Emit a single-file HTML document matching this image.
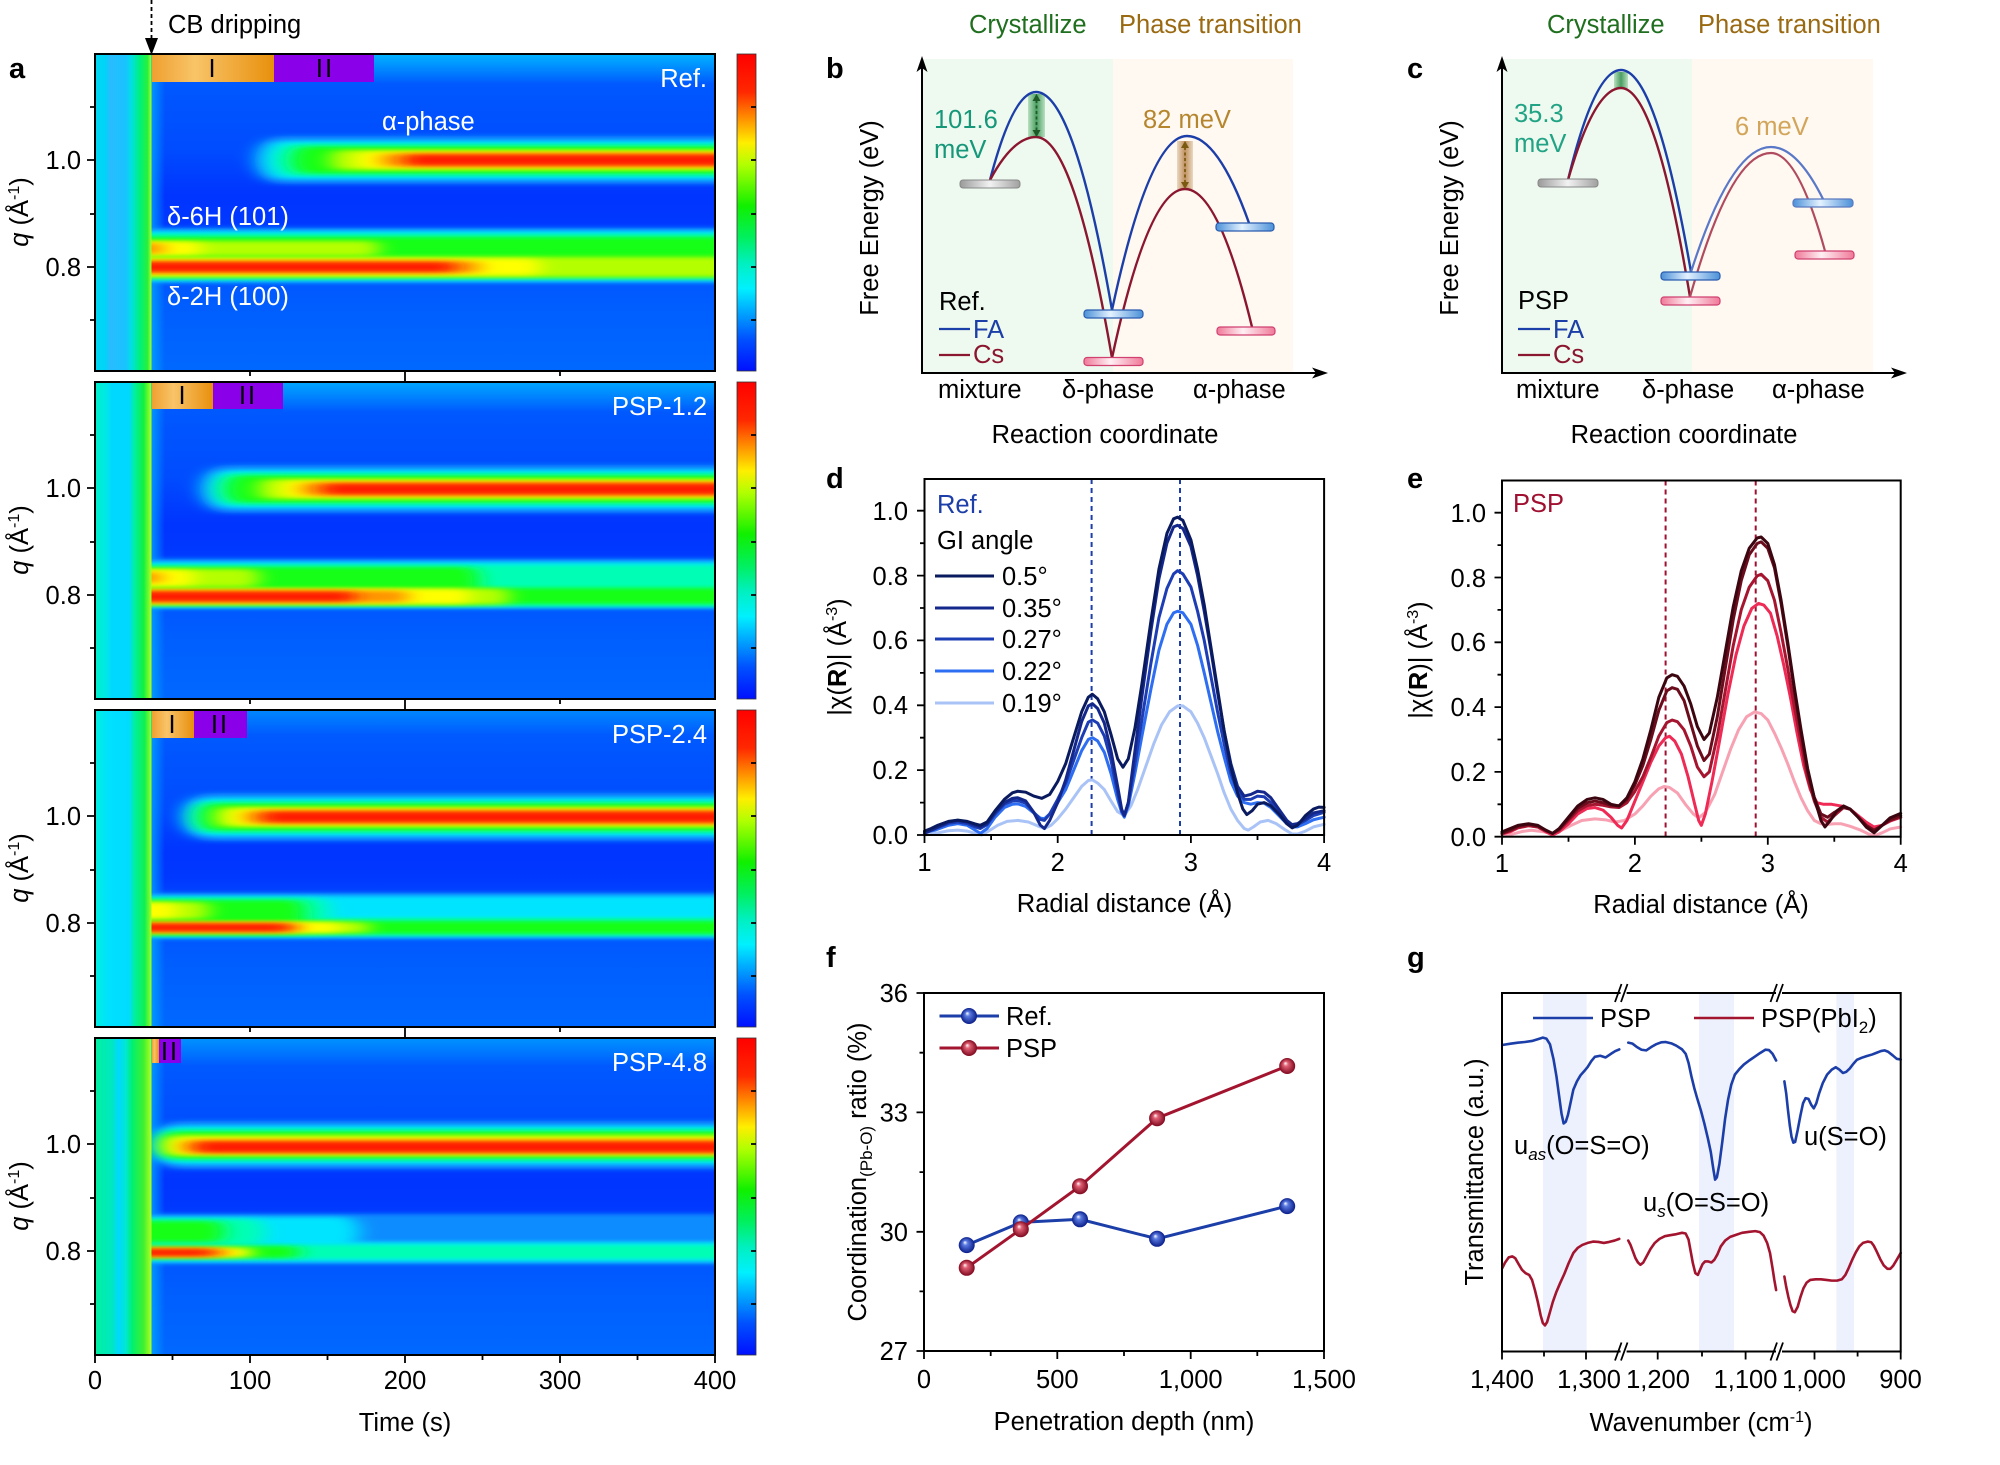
<!DOCTYPE html>
<html><head><meta charset="utf-8">
<style>
html,body{margin:0;padding:0;background:#fff;}
svg{display:block;}
text{font-family:"Liberation Sans",Arial,sans-serif;font-size:25.5px;fill:#000;}
.w{fill:#fff;}
.lb{font-weight:bold;font-size:29px;}
.h{fill:#0a8cff}.c{fill:#00e4ff}.a{fill:#00ffb4}.g{fill:#14ff14}.yg{fill:#b4ff00}.y{fill:#ffff00}.o{fill:#ff9600}.r{fill:#ff1e00}
.bands rect{filter:url(#bl);}
.ax{fill:none;stroke:#000;stroke-width:2}
.tk{stroke:#000;stroke-width:1.8;fill:none}
</style></head><body>
<svg width="2000" height="1465" viewBox="0 0 2000 1465" xmlns="http://www.w3.org/2000/svg">
<defs>
 <filter id="bl" filterUnits="userSpaceOnUse" x="60" y="0" width="760" height="1465"><feGaussianBlur stdDeviation="10 2"/></filter>
 <linearGradient id="bgv" x1="0" y1="0" x2="0" y2="1">
  <stop offset="0" stop-color="#0062ff"/><stop offset="0.12" stop-color="#0056ff"/>
  <stop offset="0.3" stop-color="#004cff"/><stop offset="0.45" stop-color="#0034ff"/>
  <stop offset="0.53" stop-color="#0038ff"/><stop offset="0.64" stop-color="#0050ff"/>
  <stop offset="0.8" stop-color="#005eff"/><stop offset="1" stop-color="#0068ff"/>
 </linearGradient>
 <linearGradient id="tf" x1="0" y1="0" x2="0" y2="1">
  <stop offset="0" stop-color="#00c8ff" stop-opacity="0.8"/><stop offset="1" stop-color="#00c8ff" stop-opacity="0"/>
 </linearGradient>
 <linearGradient id="df" x1="0" y1="0" x2="1" y2="0">
  <stop offset="0" stop-color="#00a8ff" stop-opacity="0.8"/><stop offset="1" stop-color="#00a8ff" stop-opacity="0"/>
 </linearGradient>
 <linearGradient id="ls1" x1="0" y1="0" x2="1" y2="0">
  <stop offset="0" stop-color="#00d8f0"/><stop offset="0.18" stop-color="#00d4fa"/><stop offset="0.27" stop-color="#28bcff"/>
  <stop offset="0.55" stop-color="#18c4ff"/><stop offset="0.64" stop-color="#00e0e4"/><stop offset="0.8" stop-color="#00f07a"/>
  <stop offset="0.93" stop-color="#28f03c"/><stop offset="1" stop-color="#a8ff28"/>
 </linearGradient>
 <linearGradient id="ls2" x1="0" y1="0" x2="1" y2="0">
  <stop offset="0" stop-color="#00f0c8"/><stop offset="0.2" stop-color="#00e8e8"/><stop offset="0.3" stop-color="#00d8ff"/>
  <stop offset="0.6" stop-color="#00d8ff"/><stop offset="0.7" stop-color="#00f0a0"/><stop offset="0.86" stop-color="#10f040"/>
  <stop offset="1" stop-color="#b0ff20"/>
 </linearGradient>
 <linearGradient id="ls3" x1="0" y1="0" x2="1" y2="0">
  <stop offset="0" stop-color="#00f0e0"/><stop offset="0.25" stop-color="#00e0ff"/><stop offset="0.6" stop-color="#00dcff"/>
  <stop offset="0.7" stop-color="#00f0a0"/><stop offset="0.88" stop-color="#10f050"/><stop offset="1" stop-color="#a0ff20"/>
 </linearGradient>
 <linearGradient id="ls4" x1="0" y1="0" x2="1" y2="0">
  <stop offset="0" stop-color="#00f0a0"/><stop offset="0.3" stop-color="#00e8c0"/><stop offset="0.42" stop-color="#00d8ff"/>
  <stop offset="0.55" stop-color="#00e8d0"/><stop offset="0.66" stop-color="#00f070"/><stop offset="0.86" stop-color="#40f030"/>
  <stop offset="1" stop-color="#b0ff20"/>
 </linearGradient>
 <linearGradient id="cb" x1="0" y1="0" x2="0" y2="1">
  <stop offset="0" stop-color="#ff0000"/><stop offset="0.12" stop-color="#ff2800"/><stop offset="0.2" stop-color="#ff8c00"/>
  <stop offset="0.28" stop-color="#ffee00"/><stop offset="0.35" stop-color="#b0ff00"/><stop offset="0.48" stop-color="#10f000"/>
  <stop offset="0.58" stop-color="#00f060"/><stop offset="0.66" stop-color="#00f0c0"/><stop offset="0.74" stop-color="#00f0ff"/>
  <stop offset="0.82" stop-color="#00a0ff"/><stop offset="0.9" stop-color="#0050ff"/><stop offset="1" stop-color="#0010ff"/>
 </linearGradient>
 <linearGradient id="org" x1="0" y1="0" x2="1" y2="0">
  <stop offset="0" stop-color="#f0a030"/><stop offset="0.35" stop-color="#f8c468"/><stop offset="0.7" stop-color="#f0a838"/><stop offset="1" stop-color="#e8900c"/>
 </linearGradient>
 <linearGradient id="pg" x1="0" y1="0" x2="1" y2="0">
  <stop offset="0" stop-color="#9a9a9a"/><stop offset="0.5" stop-color="#f2f2f2"/><stop offset="1" stop-color="#a0a0a0"/>
 </linearGradient>
 <linearGradient id="pb" x1="0" y1="0" x2="1" y2="0">
  <stop offset="0" stop-color="#4a90d8"/><stop offset="0.45" stop-color="#e4f2ff"/><stop offset="1" stop-color="#4a90d8"/>
 </linearGradient>
 <linearGradient id="pp" x1="0" y1="0" x2="1" y2="0">
  <stop offset="0" stop-color="#f07898"/><stop offset="0.45" stop-color="#fff0f4"/><stop offset="1" stop-color="#f07898"/>
 </linearGradient>
 <linearGradient id="garr" x1="0" y1="0" x2="1" y2="0">
  <stop offset="0" stop-color="#b8e0c0"/><stop offset="0.5" stop-color="#4a9e62"/><stop offset="1" stop-color="#b8e0c0"/>
 </linearGradient>
 <linearGradient id="barr" x1="0" y1="0" x2="1" y2="0">
  <stop offset="0" stop-color="#ead8c0"/><stop offset="0.5" stop-color="#c09060"/><stop offset="1" stop-color="#ead8c0"/>
 </linearGradient>
 <radialGradient id="sb" cx="0.5" cy="0.5" r="0.5" fx="0.38" fy="0.32">
  <stop offset="0" stop-color="#ffffff"/><stop offset="0.3" stop-color="#5a7ae0"/><stop offset="1" stop-color="#0a1e8a"/>
 </radialGradient>
 <radialGradient id="sr" cx="0.5" cy="0.5" r="0.5" fx="0.38" fy="0.32">
  <stop offset="0" stop-color="#ffffff"/><stop offset="0.3" stop-color="#e06074"/><stop offset="1" stop-color="#80081e"/>
 </radialGradient>
 <clipPath id="h1"><rect x="95" y="54" width="620" height="317"/></clipPath>
 <clipPath id="h2"><rect x="95" y="382" width="620" height="317"/></clipPath>
 <clipPath id="h3"><rect x="95" y="710" width="620" height="317"/></clipPath>
 <clipPath id="h4"><rect x="95" y="1038" width="620" height="317"/></clipPath>
</defs>

<!-- ================= PANEL A ================= -->
<text class="lb" x="9" y="78">a</text>
<line x1="151.5" y1="0" x2="151.5" y2="40" stroke="#000" stroke-width="1.8" stroke-dasharray="4,3"/>
<polygon points="145,38 158,38 151.5,55" fill="#000"/>
<text x="168" y="33">CB dripping</text>

<!-- Heatmap 1 (Ref) -->
<g clip-path="url(#h1)">
 <rect x="95" y="54" width="620" height="317" fill="url(#bgv)"/>
 <rect x="374" y="54" width="341" height="30" fill="url(#tf)"/>
 <rect x="151" y="54" width="14" height="317" fill="url(#df)"/>
 <g class="bands">
  <rect class="h" x="255" y="136" width="500" height="48" rx="24"/>
  <rect class="c" x="262" y="141" width="500" height="38" rx="19"/>
  <rect class="a" x="275" y="144" width="500" height="32" rx="16"/>
  <rect class="g" x="292" y="146.5" width="500" height="27" rx="13.5"/>
  <rect class="yg" x="330" y="150" width="500" height="20" rx="10"/>
  <rect class="y" x="355" y="152" width="500" height="16" rx="8"/>
  <rect class="o" x="380" y="153.5" width="500" height="13" rx="6.5"/>
  <rect class="r" x="405" y="154.5" width="500" height="11" rx="5.5"/>
  <rect class="h" x="120" y="228" width="630" height="55"/>
  <rect class="c" x="120" y="231" width="630" height="50"/>
  <rect class="a" x="120" y="234" width="630" height="45"/>
  <rect class="g" x="120" y="237" width="630" height="40"/>
  <rect class="yg" x="120" y="241" width="259" height="15" rx="7.5"/>
  <rect class="y" x="120" y="242" width="81" height="13" rx="6.5"/>
  <rect class="o" x="120" y="243" width="43" height="11" rx="5"/>
  <rect class="yg" x="120" y="257" width="630" height="20"/>
  <rect class="y" x="120" y="259" width="420" height="16" rx="8"/>
  <rect class="o" x="120" y="261" width="360" height="12" rx="6"/>
  <rect class="r" x="120" y="262" width="335" height="10" rx="5"/>
 </g>
 <rect x="95" y="54" width="56.5" height="317" fill="url(#ls1)"/>
 <rect x="152" y="54" width="122" height="28" fill="url(#org)"/>
 <rect x="274" y="54" width="100" height="28" fill="#8a00e8"/>
 <text x="212" y="77" font-size="22" text-anchor="middle">I</text>
 <text x="325" y="77" font-size="22" text-anchor="middle" letter-spacing="2">II</text>
 <text class="w" x="707" y="87" text-anchor="end">Ref.</text>
 <text class="w" x="382" y="130">α-phase</text>
 <text class="w" x="167" y="225">δ-6H (101)</text>
 <text class="w" x="167" y="305">δ-2H (100)</text>
</g>
<rect class="ax" x="95" y="54" width="620" height="317"/>

<!-- Heatmap 2 (PSP-1.2) -->
<g clip-path="url(#h2)">
 <rect x="95" y="382" width="620" height="317" fill="url(#bgv)"/>
 <rect x="283" y="382" width="432" height="30" fill="url(#tf)" opacity="0.85"/>
 <rect x="151" y="382" width="14" height="317" fill="url(#df)"/>
 <g class="bands">
  <rect class="h" x="200" y="465" width="560" height="48" rx="24"/>
  <rect class="c" x="208" y="470" width="560" height="38" rx="19"/>
  <rect class="a" x="216" y="473" width="560" height="32" rx="16"/>
  <rect class="g" x="226" y="475.5" width="560" height="27" rx="13.5"/>
  <rect class="yg" x="258" y="479" width="560" height="20" rx="10"/>
  <rect class="y" x="280" y="481" width="560" height="16" rx="8"/>
  <rect class="o" x="300" y="482.5" width="560" height="13" rx="6.5"/>
  <rect class="r" x="322" y="483.5" width="560" height="11" rx="5.5"/>
  <rect class="h" x="120" y="559" width="630" height="50"/>
  <rect class="c" x="120" y="562" width="630" height="45"/>
  <rect class="a" x="120" y="565" width="630" height="41"/>
  <rect class="g" x="120" y="567" width="359" height="37" rx="12"/>
  <rect class="g" x="120" y="588" width="630" height="16"/>
  <rect class="yg" x="120" y="569" width="139" height="18" rx="9"/>
  <rect class="y" x="120" y="570" width="74" height="16" rx="8"/>
  <rect class="o" x="120" y="572" width="41" height="11" rx="5"/>
  <rect class="yg" x="120" y="588.5" width="389" height="16" rx="8"/>
  <rect class="y" x="120" y="589.5" width="350" height="14" rx="7"/>
  <rect class="o" x="120" y="590.5" width="288" height="12" rx="6"/>
  <rect class="r" x="120" y="591.5" width="235" height="10" rx="5"/>
 </g>
 <rect x="95" y="382" width="56.5" height="317" fill="url(#ls2)"/>
 <rect x="152" y="382" width="61" height="27" fill="url(#org)"/>
 <rect x="213" y="382" width="70" height="27" fill="#8a00e8"/>
 <text x="182" y="404" font-size="22" text-anchor="middle">I</text>
 <text x="248" y="404" font-size="22" text-anchor="middle" letter-spacing="2">II</text>
 <text class="w" x="707" y="415" text-anchor="end">PSP-1.2</text>
</g>
<rect class="ax" x="95" y="382" width="620" height="317"/>

<!-- Heatmap 3 (PSP-2.4) -->
<g clip-path="url(#h3)">
 <rect x="95" y="710" width="620" height="317" fill="url(#bgv)"/>
 <rect x="247" y="710" width="468" height="25" fill="url(#tf)" opacity="0.45"/>
 <rect x="151" y="710" width="14" height="317" fill="url(#df)"/>
 <g class="bands">
  <rect class="h" x="183" y="793" width="580" height="48" rx="24"/>
  <rect class="c" x="188" y="798" width="580" height="38" rx="19"/>
  <rect class="a" x="193" y="801" width="580" height="32" rx="16"/>
  <rect class="g" x="199" y="803.5" width="580" height="27" rx="13.5"/>
  <rect class="yg" x="215" y="807" width="580" height="20" rx="10"/>
  <rect class="y" x="228" y="809" width="580" height="16" rx="8"/>
  <rect class="o" x="245" y="810.5" width="580" height="13" rx="6.5"/>
  <rect class="r" x="262" y="811.5" width="580" height="11" rx="5.5"/>
  <rect class="h" x="120" y="893" width="630" height="46"/>
  <rect class="c" x="120" y="896" width="630" height="41"/>
  <rect class="a" x="120" y="898" width="209" height="37" rx="12"/>
  <rect class="a" x="120" y="918" width="630" height="17"/>
  <rect class="g" x="120" y="900" width="185" height="34" rx="11"/>
  <rect class="g" x="120" y="921" width="630" height="13"/>
  <rect class="yg" x="120" y="902" width="89" height="17" rx="8"/>
  <rect class="y" x="120" y="903" width="57" height="15" rx="7"/>
  <rect class="yg" x="120" y="922" width="249" height="11" rx="5.5"/>
  <rect class="y" x="120" y="922.5" width="220" height="10" rx="5"/>
  <rect class="o" x="120" y="923" width="180" height="9" rx="4.5"/>
  <rect class="r" x="120" y="923.5" width="170" height="8" rx="4"/>
 </g>
 <rect x="95" y="710" width="56.5" height="317" fill="url(#ls3)"/>
 <rect x="152" y="710" width="42" height="28" fill="url(#org)"/>
 <rect x="194" y="710" width="53" height="28" fill="#8a00e8"/>
 <text x="172" y="733" font-size="22" text-anchor="middle">I</text>
 <text x="220" y="733" font-size="22" text-anchor="middle" letter-spacing="2">II</text>
 <text class="w" x="707" y="743" text-anchor="end">PSP-2.4</text>
</g>
<rect class="ax" x="95" y="710" width="620" height="317"/>

<!-- Heatmap 4 (PSP-4.8) -->
<g clip-path="url(#h4)">
 <rect x="95" y="1038" width="620" height="317" fill="url(#bgv)"/>
 <rect x="181" y="1038" width="534" height="28" fill="url(#tf)" opacity="0.6"/>
 <rect x="151" y="1038" width="14" height="317" fill="url(#df)"/>
 <g class="bands">
  <rect class="h" x="153" y="1121" width="600" height="48" rx="24"/>
  <rect class="c" x="156" y="1126" width="600" height="38" rx="19"/>
  <rect class="a" x="158" y="1129" width="600" height="32" rx="16"/>
  <rect class="g" x="160" y="1131.5" width="600" height="27" rx="13.5"/>
  <rect class="yg" x="164" y="1135" width="600" height="21" rx="10.5"/>
  <rect class="y" x="170" y="1138" width="600" height="16" rx="8"/>
  <rect class="o" x="182" y="1140" width="600" height="13" rx="6.5"/>
  <rect class="r" x="195" y="1141.5" width="600" height="11" rx="5.5"/>
  <rect class="h" x="120" y="1214" width="630" height="50"/>
  <rect class="c" x="120" y="1217" width="239" height="30" rx="15"/>
  <rect class="c" x="120" y="1242" width="630" height="20"/>
  <rect class="a" x="120" y="1219" width="144" height="26" rx="13"/>
  <rect class="a" x="120" y="1245" width="630" height="14"/>
  <rect class="g" x="120" y="1221" width="104" height="21" rx="10"/>
  <rect class="g" x="120" y="1246" width="179" height="12" rx="6"/>
  <rect class="y" x="120" y="1247.5" width="131" height="10" rx="5"/>
  <rect class="o" x="120" y="1248.5" width="107" height="8" rx="4"/>
  <rect class="r" x="120" y="1249" width="93" height="7" rx="3.5"/>
 </g>
 <rect x="95" y="1038" width="56.5" height="317" fill="url(#ls4)"/>
 <rect x="152" y="1038" width="7" height="25" fill="url(#org)"/>
 <rect x="159" y="1038" width="22" height="25" fill="#8a00e8"/>
 <text x="170" y="1060" font-size="22" text-anchor="middle" letter-spacing="2">II</text>
 <text class="w" x="707" y="1071" text-anchor="end">PSP-4.8</text>
</g>
<rect class="ax" x="95" y="1038" width="620" height="317"/>

<!-- colorbars -->
<g stroke="#333" stroke-width="0.8">
 <rect x="737" y="54" width="19" height="317" fill="url(#cb)"/>
 <rect x="737" y="382" width="19" height="317" fill="url(#cb)"/>
 <rect x="737" y="710" width="19" height="317" fill="url(#cb)"/>
 <rect x="737" y="1038" width="19" height="317" fill="url(#cb)"/>
</g>
<path class="tk" stroke-width="1.2" d="M751,107h5M751,160h5M751,214h5M751,267h5M751,320h5
M751,435h5M751,488h5M751,542h5M751,595h5M751,648h5
M751,763h5M751,816h5M751,870h5M751,923h5M751,976h5
M751,1091h5M751,1144h5M751,1198h5M751,1251h5M751,1304h5"/>

<!-- panel a ticks -->
<path class="tk" d="M87,160h8M87,267h8M90,107h5M90,214h5M90,320h5
M87,488h8M87,595h8M90,435h5M90,542h5M90,648h5
M87,816h8M87,923h8M90,763h5M90,870h5M90,976h5
M87,1144h8M87,1251h8M90,1091h5M90,1198h5M90,1304h5
M250,371v5M405,371v11M560,371v5
M250,699v5M405,699v11M560,699v5
M250,1027v5M405,1027v11M560,1027v5
M95,1355v8M250,1355v8M405,1355v8M560,1355v8M715,1355v8
M172.5,1355v5M327.5,1355v5M482.5,1355v5M637.5,1355v5"/>
<g text-anchor="end">
 <text x="81" y="169">1.0</text><text x="81" y="276">0.8</text>
 <text x="81" y="497">1.0</text><text x="81" y="604">0.8</text>
 <text x="81" y="825">1.0</text><text x="81" y="932">0.8</text>
 <text x="81" y="1153">1.0</text><text x="81" y="1260">0.8</text>
</g>
<g text-anchor="middle">
 <text transform="translate(28,212) rotate(-90)"><tspan font-style="italic">q</tspan>  (Å<tspan font-size="16" dy="-9">-1</tspan><tspan dy="9">)</tspan></text>
 <text transform="translate(28,540) rotate(-90)"><tspan font-style="italic">q</tspan>  (Å<tspan font-size="16" dy="-9">-1</tspan><tspan dy="9">)</tspan></text>
 <text transform="translate(28,868) rotate(-90)"><tspan font-style="italic">q</tspan>  (Å<tspan font-size="16" dy="-9">-1</tspan><tspan dy="9">)</tspan></text>
 <text transform="translate(28,1196) rotate(-90)"><tspan font-style="italic">q</tspan>  (Å<tspan font-size="16" dy="-9">-1</tspan><tspan dy="9">)</tspan></text>
 <text x="95" y="1389">0</text><text x="250" y="1389">100</text><text x="405" y="1389">200</text>
 <text x="560" y="1389">300</text><text x="715" y="1389">400</text>
 <text x="405" y="1431">Time (s)</text>
</g>

<!-- ================= PANEL B ================= -->
<text class="lb" x="826" y="78">b</text>
<text x="969" y="33" style="fill:#1f6f1f">Crystallize</text>
<text x="1119" y="33" style="fill:#9a6a12">Phase transition</text>
<rect x="922" y="59" width="191" height="314" fill="#eefaef"/>
<rect x="1113" y="59" width="180" height="314" fill="#fff9f1"/>
<line x1="922" y1="374" x2="922" y2="66" stroke="#000" stroke-width="2"/>
<polygon points="922,56 916.5,72 922,68 927.5,72" fill="#000"/>
<line x1="921" y1="373" x2="1318" y2="373" stroke="#000" stroke-width="2"/>
<polygon points="1328,373 1312,367.5 1316,373 1312,378.5" fill="#000"/>
<rect x="1028" y="94" width="17" height="43" fill="url(#garr)"/>
<rect x="1177" y="141" width="16" height="48" fill="url(#barr)"/>
<path d="M990,180 Q1013,92 1036,92 Q1074,92 1112,310 Q1149.5,136 1187,136 Q1218,136 1249,223" fill="none" stroke="#1c3ea8" stroke-width="2.4"/>
<path d="M990,180 Q1013,137 1036,137 Q1074,137 1112,358 Q1148.5,189 1185,189 Q1218.5,189 1252,327" fill="none" stroke="#8b1630" stroke-width="2.4"/>
<line x1="1036.5" y1="100" x2="1036.5" y2="131" stroke="#1e5a28" stroke-width="1.8" stroke-dasharray="3,2.5"/>
<polygon points="1036.5,94 1032.5,101 1040.5,101" fill="#1e5a28"/>
<polygon points="1036.5,137 1032.5,130 1040.5,130" fill="#1e5a28"/>
<line x1="1185" y1="147" x2="1185" y2="183" stroke="#7a5a10" stroke-width="1.8" stroke-dasharray="3,2.5"/>
<polygon points="1185,141 1181,148 1189,148" fill="#7a5a10"/>
<polygon points="1185,189 1181,182 1189,182" fill="#7a5a10"/>
<rect x="960" y="180" width="60" height="8" rx="3" fill="url(#pg)" stroke="#888" stroke-width="1"/>
<rect x="1084" y="310" width="59" height="8" rx="3" fill="url(#pb)" stroke="#2a5cb0" stroke-width="1.2"/>
<rect x="1084" y="357.5" width="59" height="8" rx="3" fill="url(#pp)" stroke="#d04070" stroke-width="1.2"/>
<rect x="1216" y="223" width="58" height="8" rx="3" fill="url(#pb)" stroke="#2a5cb0" stroke-width="1.2"/>
<rect x="1217" y="327" width="58" height="8" rx="3" fill="url(#pp)" stroke="#d04070" stroke-width="1.2"/>
<text x="934" y="128" style="fill:#16977a">101.6</text>
<text x="934" y="158" style="fill:#16977a">meV</text>
<text x="1143" y="128" style="fill:#b5862e">82 meV</text>
<text x="939" y="310">Ref.</text>
<line x1="939" y1="329" x2="970" y2="329" stroke="#1c3ea8" stroke-width="2.2"/>
<text x="973" y="338" style="fill:#1c3ea8">FA</text>
<line x1="939" y1="355" x2="970" y2="355" stroke="#8b1630" stroke-width="2.2"/>
<text x="973" y="363" style="fill:#8b1630">Cs</text>
<text x="938" y="398">mixture</text>
<text x="1062" y="398">δ-phase</text>
<text x="1193" y="398">α-phase</text>
<text x="1105" y="443" text-anchor="middle">Reaction coordinate</text>
<text transform="translate(878,218) rotate(-90)" text-anchor="middle">Free Energy (eV)</text>

<!-- ================= PANEL C ================= -->
<text class="lb" x="1407" y="78">c</text>
<text x="1547" y="33" style="fill:#1f6f1f">Crystallize</text>
<text x="1698" y="33" style="fill:#9a6a12">Phase transition</text>
<rect x="1502" y="59" width="190" height="314" fill="#eefaef"/>
<rect x="1692" y="59" width="181" height="314" fill="#fff9f1"/>
<line x1="1502" y1="374" x2="1502" y2="66" stroke="#000" stroke-width="2"/>
<polygon points="1502,56 1496.5,72 1502,68 1507.5,72" fill="#000"/>
<line x1="1501" y1="373" x2="1897" y2="373" stroke="#000" stroke-width="2"/>
<polygon points="1907,373 1891,367.5 1895,373 1891,378.5" fill="#000"/>
<rect x="1614" y="72" width="14" height="16" fill="url(#garr)"/>
<path d="M1568,180 Q1594.5,70 1621,70 Q1656,70 1691,272" fill="none" stroke="#1c3ea8" stroke-width="2.4"/>
<path d="M1691,272 Q1731,147 1771,147 Q1797,147 1823,199" fill="none" stroke="#5a78c8" stroke-width="2.2"/>
<path d="M1568,180 Q1594.5,88 1621,88 Q1655.5,88 1690,297" fill="none" stroke="#8b1630" stroke-width="2.4"/>
<path d="M1690,297 Q1730.5,153 1771,153 Q1798,153 1825,251" fill="none" stroke="#b04a5e" stroke-width="2.2"/>
<rect x="1538" y="179" width="60" height="8" rx="3" fill="url(#pg)" stroke="#888" stroke-width="1"/>
<rect x="1661" y="272" width="59" height="8" rx="3" fill="url(#pb)" stroke="#2a5cb0" stroke-width="1.2"/>
<rect x="1661" y="297" width="59" height="8" rx="3" fill="url(#pp)" stroke="#d04070" stroke-width="1.2"/>
<rect x="1793" y="199" width="60" height="8" rx="3" fill="url(#pb)" stroke="#5a7ac0" stroke-width="1.2"/>
<rect x="1795" y="251" width="59" height="8" rx="3" fill="url(#pp)" stroke="#d04070" stroke-width="1.2"/>
<text x="1514" y="122" style="fill:#22a385">35.3</text>
<text x="1514" y="152" style="fill:#22a385">meV</text>
<text x="1735" y="135" style="fill:#d2a55a">6 meV</text>
<text x="1518" y="309">PSP</text>
<line x1="1518" y1="329" x2="1550" y2="329" stroke="#1c3ea8" stroke-width="2.2"/>
<text x="1553" y="338" style="fill:#1c3ea8">FA</text>
<line x1="1518" y1="355" x2="1550" y2="355" stroke="#8b1630" stroke-width="2.2"/>
<text x="1553" y="363" style="fill:#8b1630">Cs</text>
<text x="1516" y="398">mixture</text>
<text x="1642" y="398">δ-phase</text>
<text x="1772" y="398">α-phase</text>
<text x="1684" y="443" text-anchor="middle">Reaction coordinate</text>
<text transform="translate(1458,218) rotate(-90)" text-anchor="middle">Free Energy (eV)</text>

<!-- ================= PANEL D ================= -->
<text class="lb" x="826" y="488">d</text>
<line x1="1091.6" y1="479" x2="1091.6" y2="835" stroke="#1c3ea8" stroke-width="2" stroke-dasharray="5,4"/>
<line x1="1180" y1="479" x2="1180" y2="835" stroke="#1c3ea8" stroke-width="2" stroke-dasharray="5,4"/>
<g transform="translate(791.3,835) scale(133.2,-324.3)" fill="none" stroke-width="3" stroke-linejoin="round" stroke-linecap="round">
 <polyline vector-effect="non-scaling-stroke" stroke="#a9c3f7" points="1.0,0.0 1.08,0.005 1.18,0.013 1.25,0.015 1.32,0.012 1.38,0.005 1.43,0.0 1.48,0.012 1.55,0.03 1.62,0.042 1.7,0.045 1.78,0.04 1.85,0.028 1.9,0.02 1.95,0.03 2.0,0.05 2.06,0.08 2.12,0.115 2.18,0.15 2.23,0.168 2.26,0.17 2.3,0.16 2.35,0.14 2.4,0.105 2.45,0.072 2.5,0.06 2.55,0.09 2.6,0.14 2.66,0.21 2.72,0.28 2.78,0.34 2.84,0.38 2.9,0.398 2.94,0.398 3.0,0.38 3.05,0.345 3.1,0.3 3.15,0.245 3.2,0.19 3.25,0.13 3.3,0.08 3.35,0.045 3.4,0.02 3.43,0.015 3.47,0.025 3.52,0.04 3.58,0.045 3.64,0.035 3.7,0.018 3.76,0.003 3.8,0.003 3.86,0.012 3.92,0.025 4.0,0.033"/>
 <polyline vector-effect="non-scaling-stroke" stroke="#2d6ef2" points="1.0,0.008 1.08,0.015 1.18,0.03 1.25,0.035 1.32,0.03 1.38,0.015 1.42,0.005 1.47,0.02 1.53,0.055 1.6,0.085 1.66,0.095 1.7,0.096 1.76,0.088 1.82,0.068 1.87,0.052 1.9,0.05 1.94,0.065 2.0,0.1 2.06,0.14 2.12,0.2 2.18,0.26 2.23,0.295 2.26,0.3 2.3,0.29 2.35,0.255 2.4,0.19 2.45,0.11 2.48,0.07 2.5,0.055 2.53,0.09 2.58,0.19 2.63,0.3 2.7,0.45 2.76,0.57 2.82,0.65 2.87,0.685 2.9,0.69 2.94,0.685 3.0,0.65 3.05,0.585 3.1,0.5 3.15,0.41 3.2,0.32 3.25,0.24 3.3,0.165 3.35,0.12 3.4,0.1 3.45,0.095 3.5,0.1 3.55,0.098 3.6,0.085 3.66,0.06 3.72,0.035 3.76,0.025 3.8,0.025 3.86,0.035 3.92,0.047 4.0,0.055"/>
 <polyline vector-effect="non-scaling-stroke" stroke="#1c3db4" points="1.0,0.01 1.08,0.02 1.18,0.036 1.25,0.04 1.32,0.035 1.38,0.025 1.42,0.02 1.47,0.032 1.53,0.065 1.6,0.095 1.66,0.105 1.7,0.106 1.76,0.098 1.82,0.07 1.87,0.048 1.9,0.045 1.94,0.065 2.0,0.11 2.06,0.16 2.12,0.23 2.18,0.3 2.23,0.348 2.26,0.355 2.3,0.345 2.35,0.305 2.4,0.23 2.45,0.13 2.48,0.075 2.5,0.06 2.53,0.1 2.58,0.22 2.63,0.35 2.7,0.53 2.76,0.67 2.82,0.76 2.87,0.805 2.9,0.815 2.94,0.805 3.0,0.765 3.05,0.69 3.1,0.6 3.15,0.49 3.2,0.38 3.25,0.28 3.3,0.19 3.35,0.135 3.4,0.11 3.45,0.11 3.5,0.12 3.55,0.118 3.6,0.1 3.66,0.07 3.72,0.04 3.76,0.03 3.8,0.032 3.86,0.045 3.92,0.06 4.0,0.07"/>
 <polyline vector-effect="non-scaling-stroke" stroke="#14288c" points="1.0,0.005 1.08,0.02 1.18,0.04 1.25,0.045 1.32,0.04 1.38,0.03 1.42,0.025 1.47,0.035 1.53,0.07 1.6,0.1 1.66,0.113 1.7,0.115 1.76,0.105 1.82,0.07 1.87,0.03 1.9,0.02 1.94,0.045 2.0,0.1 2.06,0.17 2.12,0.26 2.18,0.35 2.23,0.398 2.26,0.405 2.3,0.39 2.35,0.345 2.4,0.26 2.45,0.15 2.48,0.08 2.5,0.06 2.53,0.1 2.58,0.26 2.63,0.42 2.7,0.63 2.76,0.79 2.82,0.9 2.87,0.95 2.9,0.955 2.94,0.945 3.0,0.89 3.05,0.8 3.1,0.69 3.15,0.57 3.2,0.44 3.25,0.32 3.3,0.22 3.35,0.15 3.4,0.12 3.45,0.125 3.5,0.135 3.55,0.132 3.6,0.115 3.66,0.08 3.72,0.045 3.76,0.032 3.8,0.035 3.86,0.05 3.92,0.068 4.0,0.075"/>
 <polyline vector-effect="non-scaling-stroke" stroke="#0a1a5e" points="1.0,0.012 1.05,0.02 1.1,0.03 1.18,0.042 1.25,0.046 1.32,0.042 1.38,0.034 1.42,0.03 1.47,0.04 1.53,0.075 1.6,0.11 1.66,0.13 1.7,0.135 1.76,0.132 1.82,0.12 1.88,0.113 1.94,0.125 2.0,0.165 2.06,0.22 2.12,0.3 2.18,0.38 2.23,0.425 2.26,0.434 2.3,0.42 2.35,0.38 2.4,0.31 2.45,0.235 2.49,0.209 2.53,0.235 2.58,0.33 2.63,0.46 2.7,0.66 2.76,0.82 2.82,0.93 2.87,0.975 2.9,0.98 2.94,0.97 3.0,0.91 3.05,0.82 3.1,0.71 3.15,0.58 3.2,0.45 3.25,0.32 3.3,0.21 3.35,0.13 3.39,0.08 3.42,0.063 3.46,0.075 3.5,0.095 3.55,0.1 3.6,0.09 3.66,0.065 3.72,0.035 3.76,0.022 3.8,0.03 3.86,0.06 3.92,0.08 3.96,0.086 4.0,0.085"/>
</g>
<rect class="ax" x="924.5" y="479" width="399.6" height="356"/>
<path class="tk" d="M917,835h7.5M917,770.1h7.5M917,705.3h7.5M917,640.4h7.5M917,575.6h7.5M917,510.7h7.5
M920,802.6h4.5M920,737.7h4.5M920,672.9h4.5M920,608h4.5M920,543.2h4.5
M924.5,835v8M1057.7,835v8M1190.9,835v8M1324.1,835v8M991.1,835v5M1124.3,835v5M1257.5,835v5"/>
<g text-anchor="end">
 <text x="908" y="844">0.0</text><text x="908" y="779">0.2</text><text x="908" y="714">0.4</text>
 <text x="908" y="649">0.6</text><text x="908" y="585">0.8</text><text x="908" y="520">1.0</text>
</g>
<g text-anchor="middle">
 <text x="924.5" y="871">1</text><text x="1057.7" y="871">2</text><text x="1190.9" y="871">3</text><text x="1324.1" y="871">4</text>
 <text x="1124.5" y="912">Radial distance (Å)</text>
 <text transform="translate(846,657) rotate(-90)">|χ(<tspan font-weight="bold">R</tspan>)| (Å<tspan font-size="16" dy="-9">-3</tspan><tspan dy="9">)</tspan></text>
</g>
<text x="937" y="513" style="fill:#1c3ea8">Ref.</text>
<text x="937" y="549">GI angle</text>
<g stroke-width="3">
 <line x1="935" y1="576" x2="994" y2="576" stroke="#0a1a5e"/>
 <line x1="935" y1="608" x2="994" y2="608" stroke="#14288c"/>
 <line x1="935" y1="639" x2="994" y2="639" stroke="#1c3db4"/>
 <line x1="935" y1="671" x2="994" y2="671" stroke="#2d6ef2"/>
 <line x1="935" y1="703" x2="994" y2="703" stroke="#a9c3f7"/>
</g>
<text x="1002" y="585">0.5°</text><text x="1002" y="617">0.35°</text><text x="1002" y="648">0.27°</text>
<text x="1002" y="680">0.22°</text><text x="1002" y="712">0.19°</text>

<!-- ================= PANEL E ================= -->
<text class="lb" x="1407" y="488">e</text>
<line x1="1665.6" y1="480.5" x2="1665.6" y2="836.7" stroke="#a01030" stroke-width="2" stroke-dasharray="5,4"/>
<line x1="1755.7" y1="480.5" x2="1755.7" y2="836.7" stroke="#a01030" stroke-width="2" stroke-dasharray="5,4"/>
<g transform="translate(1369.1,836.7) scale(132.9,-324)" fill="none" stroke-width="3" stroke-linejoin="round" stroke-linecap="round">
 <polyline vector-effect="non-scaling-stroke" stroke="#f7a1b3" points="1.0,0.0 1.08,0.008 1.15,0.016 1.22,0.02 1.3,0.016 1.38,0.01 1.45,0.02 1.52,0.035 1.6,0.05 1.7,0.055 1.78,0.052 1.85,0.045 1.92,0.05 2.0,0.07 2.06,0.095 2.12,0.125 2.18,0.148 2.22,0.155 2.26,0.152 2.32,0.135 2.38,0.1 2.44,0.07 2.48,0.058 2.53,0.075 2.6,0.13 2.66,0.2 2.72,0.27 2.78,0.33 2.84,0.37 2.9,0.385 2.95,0.38 3.0,0.36 3.05,0.32 3.1,0.275 3.15,0.225 3.2,0.17 3.25,0.12 3.3,0.08 3.35,0.05 3.4,0.04 3.45,0.038 3.5,0.04 3.55,0.04 3.62,0.032 3.7,0.02 3.76,0.008 3.8,0.003 3.86,0.012 3.92,0.024 4.0,0.03"/>
 <polyline vector-effect="non-scaling-stroke" stroke="#ee2a55" points="1.0,0.008 1.06,0.015 1.12,0.027 1.2,0.034 1.27,0.03 1.33,0.015 1.38,0.005 1.43,0.015 1.5,0.04 1.57,0.07 1.64,0.087 1.7,0.09 1.76,0.082 1.82,0.06 1.87,0.035 1.9,0.027 1.94,0.05 2.0,0.11 2.06,0.17 2.12,0.23 2.18,0.28 2.23,0.305 2.26,0.31 2.3,0.295 2.35,0.255 2.4,0.185 2.45,0.1 2.48,0.05 2.5,0.035 2.53,0.07 2.58,0.17 2.63,0.28 2.7,0.44 2.76,0.56 2.82,0.65 2.88,0.705 2.93,0.72 2.97,0.715 3.02,0.69 3.07,0.62 3.12,0.53 3.17,0.43 3.22,0.32 3.27,0.22 3.32,0.145 3.37,0.105 3.42,0.1 3.48,0.1 3.55,0.095 3.62,0.085 3.68,0.065 3.74,0.045 3.8,0.03 3.86,0.035 3.92,0.048 4.0,0.06"/>
 <polyline vector-effect="non-scaling-stroke" stroke="#a5152f" points="1.0,0.01 1.06,0.018 1.12,0.028 1.2,0.034 1.27,0.03 1.33,0.018 1.38,0.01 1.43,0.02 1.5,0.05 1.57,0.08 1.64,0.096 1.7,0.1 1.76,0.097 1.82,0.092 1.88,0.09 1.94,0.105 2.0,0.14 2.06,0.185 2.12,0.245 2.18,0.31 2.24,0.352 2.28,0.36 2.32,0.355 2.37,0.33 2.42,0.28 2.47,0.215 2.52,0.185 2.56,0.2 2.62,0.31 2.68,0.45 2.74,0.59 2.8,0.7 2.86,0.77 2.92,0.805 2.95,0.81 3.0,0.79 3.05,0.73 3.1,0.63 3.15,0.52 3.2,0.4 3.25,0.29 3.3,0.18 3.35,0.11 3.4,0.06 3.45,0.045 3.5,0.065 3.57,0.09 3.62,0.085 3.68,0.06 3.74,0.035 3.8,0.02 3.86,0.035 3.92,0.05 4.0,0.06"/>
 <polyline vector-effect="non-scaling-stroke" stroke="#6a0c1c" points="1.0,0.01 1.06,0.02 1.12,0.032 1.2,0.038 1.27,0.033 1.33,0.02 1.38,0.01 1.43,0.023 1.5,0.055 1.57,0.088 1.64,0.105 1.7,0.11 1.76,0.105 1.82,0.097 1.88,0.095 1.94,0.115 2.0,0.16 2.06,0.22 2.12,0.3 2.18,0.39 2.24,0.45 2.28,0.46 2.32,0.455 2.37,0.42 2.42,0.35 2.47,0.28 2.52,0.235 2.56,0.255 2.62,0.37 2.68,0.52 2.74,0.67 2.8,0.79 2.86,0.87 2.92,0.905 2.95,0.91 3.0,0.89 3.05,0.83 3.1,0.72 3.15,0.59 3.2,0.45 3.25,0.32 3.3,0.2 3.35,0.12 3.4,0.07 3.45,0.06 3.5,0.075 3.57,0.09 3.62,0.085 3.68,0.06 3.74,0.035 3.8,0.02 3.86,0.035 3.92,0.052 4.0,0.065"/>
 <polyline vector-effect="non-scaling-stroke" stroke="#3c0610" points="1.0,0.015 1.06,0.025 1.12,0.035 1.2,0.04 1.27,0.035 1.33,0.02 1.38,0.01 1.43,0.025 1.5,0.06 1.57,0.095 1.64,0.115 1.7,0.12 1.76,0.115 1.82,0.1 1.88,0.095 1.94,0.12 2.0,0.17 2.06,0.24 2.12,0.33 2.18,0.43 2.24,0.49 2.28,0.5 2.32,0.495 2.37,0.465 2.42,0.41 2.47,0.34 2.52,0.3 2.56,0.32 2.62,0.43 2.68,0.57 2.74,0.71 2.8,0.82 2.86,0.89 2.92,0.922 2.95,0.925 3.0,0.905 3.05,0.84 3.1,0.73 3.15,0.6 3.2,0.46 3.25,0.33 3.3,0.21 3.35,0.12 3.4,0.05 3.43,0.03 3.47,0.05 3.52,0.08 3.57,0.095 3.62,0.085 3.68,0.06 3.74,0.03 3.8,0.012 3.86,0.035 3.92,0.058 4.0,0.072"/>
</g>
<rect class="ax" x="1502" y="480.5" width="398.7" height="356.2"/>
<path class="tk" d="M1494.5,836.7h7.5M1494.5,771.9h7.5M1494.5,707.1h7.5M1494.5,642.3h7.5M1494.5,577.5h7.5M1494.5,512.7h7.5
M1497.5,804.3h4.5M1497.5,739.5h4.5M1497.5,674.7h4.5M1497.5,609.9h4.5M1497.5,545.1h4.5
M1502,836.7v8M1634.9,836.7v8M1767.8,836.7v8M1900.7,836.7v8M1568.5,836.7v5M1701.4,836.7v5M1834.3,836.7v5"/>
<g text-anchor="end">
 <text x="1486" y="846">0.0</text><text x="1486" y="781">0.2</text><text x="1486" y="716">0.4</text>
 <text x="1486" y="651">0.6</text><text x="1486" y="587">0.8</text><text x="1486" y="522">1.0</text>
</g>
<g text-anchor="middle">
 <text x="1502" y="872">1</text><text x="1634.9" y="872">2</text><text x="1767.8" y="872">3</text><text x="1900.7" y="872">4</text>
 <text x="1701" y="913">Radial distance (Å)</text>
 <text transform="translate(1427,660) rotate(-90)">|χ(<tspan font-weight="bold">R</tspan>)| (Å<tspan font-size="16" dy="-9">-3</tspan><tspan dy="9">)</tspan></text>
</g>
<text x="1513" y="512" style="fill:#a01030">PSP</text>

<!-- ================= PANEL F ================= -->
<text class="lb" x="826" y="967">f</text>
<rect class="ax" x="924" y="993" width="400" height="358"/>
<path class="tk" d="M916.5,993h7.5M916.5,1112.4h7.5M916.5,1231.8h7.5M916.5,1351h7.5M919.5,1052.7h4.5M919.5,1172.1h4.5M919.5,1291.4h4.5
M924,1351v8M1057.3,1351v8M1190.7,1351v8M1324,1351v8M990.7,1351v5M1124,1351v5M1257.3,1351v5"/>
<g text-anchor="end">
 <text x="908" y="1002">36</text><text x="908" y="1121.4">33</text><text x="908" y="1240.8">30</text><text x="908" y="1360">27</text>
</g>
<g text-anchor="middle">
 <text x="924" y="1388">0</text><text x="1057.3" y="1388">500</text><text x="1190.7" y="1388">1,000</text><text x="1324" y="1388">1,500</text>
 <text x="1124" y="1430">Penetration depth (nm)</text>
 <text transform="translate(866,1172) rotate(-90)">Coordination<tspan font-size="17" dy="6">(Pb-O)</tspan><tspan dy="-6"> ratio (%)</tspan></text>
</g>
<polyline points="966.7,1245.1 1020.8,1222.4 1080,1219.3 1157.1,1238.8 1287.2,1206.1" fill="none" stroke="#1c3ea8" stroke-width="3"/>
<g fill="url(#sb)">
 <circle cx="966.7" cy="1245.1" r="8"/><circle cx="1020.8" cy="1222.4" r="8"/><circle cx="1080" cy="1219.3" r="8"/>
 <circle cx="1157.1" cy="1238.8" r="8"/><circle cx="1287.2" cy="1206.1" r="8"/>
</g>
<polyline points="966.7,1267.8 1020.8,1229.2 1080,1186.2 1157.1,1118.2 1287.2,1066" fill="none" stroke="#a3142f" stroke-width="3"/>
<g fill="url(#sr)">
 <circle cx="966.7" cy="1267.8" r="8"/><circle cx="1020.8" cy="1229.2" r="8"/><circle cx="1080" cy="1186.2" r="8"/>
 <circle cx="1157.1" cy="1118.2" r="8"/><circle cx="1287.2" cy="1066" r="8"/>
</g>
<line x1="939.5" y1="1016" x2="999" y2="1016" stroke="#1c3ea8" stroke-width="3"/>
<circle cx="969" cy="1016" r="8" fill="url(#sb)"/>
<text x="1006" y="1025">Ref.</text>
<line x1="939.5" y1="1048" x2="999" y2="1048" stroke="#a3142f" stroke-width="3"/>
<circle cx="969" cy="1048" r="8" fill="url(#sr)"/>
<text x="1006" y="1057">PSP</text>

<!-- ================= PANEL G ================= -->
<text class="lb" x="1407" y="967">g</text>
<g fill="#edf1fd">
 <rect x="1543" y="993" width="43.6" height="358.5"/>
 <rect x="1699" y="993" width="35" height="358.5"/>
 <rect x="1836.4" y="993" width="17.6" height="358.5"/>
</g>
<g transform="translate(1410,940) scale(0.35894,0.33658)" fill="none" stroke-width="2.6" stroke-linejoin="round" stroke-linecap="round">
 <polyline vector-effect="non-scaling-stroke" stroke="#1c3ea8" points="257,312 280,308 300,305 320,303 340,300 358,294 370,290 380,293 390,310 400,355 408,405 415,460 422,515 428,545 434,540 440,520 447,485 455,445 465,420 475,402 485,390 495,377 505,360 515,347 530,344 545,349 560,338 572,330 583,325"/>
 <polyline vector-effect="non-scaling-stroke" stroke="#1c3ea8" points="608,305 620,308 632,318 645,326 658,328 672,318 685,310 700,304 712,303 728,307 742,314 758,325 768,338 776,365 784,405 792,440 800,470 810,505 820,545 830,590 838,630 845,680 850,712 855,705 862,665 870,600 878,530 886,475 895,430 905,400 918,383 930,370 945,358 960,347 975,336 990,326 1000,327 1010,338 1020,358"/>
 <polyline vector-effect="non-scaling-stroke" stroke="#1c3ea8" points="1043,420 1048,455 1053,505 1058,550 1063,585 1068,602 1073,600 1080,565 1088,520 1095,485 1102,470 1110,472 1118,490 1125,500 1132,485 1140,455 1150,425 1162,400 1175,385 1186,378 1196,385 1206,395 1215,392 1225,382 1235,368 1245,356 1258,350 1272,345 1288,340 1300,335 1312,330 1322,328 1332,332 1345,343 1356,353 1367,355"/>
 <polyline vector-effect="non-scaling-stroke" stroke="#a3142f" points="257,975 265,958 275,943 285,940 293,945 302,962 312,980 322,990 332,995 340,1010 348,1040 356,1075 364,1115 370,1138 376,1145 382,1135 390,1105 398,1075 408,1045 418,1020 430,992 442,960 455,930 467,915 480,906 495,900 510,896 525,897 540,900 555,897 570,893 583,888"/>
 <polyline vector-effect="non-scaling-stroke" stroke="#a3142f" points="608,893 614,905 621,925 628,945 635,958 642,965 650,958 660,938 670,918 682,900 695,888 710,880 725,877 742,874 758,870 768,872 776,890 782,925 788,960 795,990 802,995 808,980 815,963 822,955 830,955 840,958 848,950 856,935 866,910 878,893 892,882 908,876 925,870 945,867 962,865 975,868 985,878 995,900 1003,930 1010,975 1015,1010 1020,1040"/>
 <polyline vector-effect="non-scaling-stroke" stroke="#a3142f" points="1043,1000 1048,1030 1054,1060 1060,1085 1066,1103 1072,1106 1080,1090 1088,1060 1096,1035 1105,1018 1115,1010 1130,1008 1145,1008 1160,1010 1175,1012 1190,1012 1203,1008 1213,995 1222,975 1232,950 1242,928 1252,910 1262,900 1275,896 1285,898 1292,908 1300,925 1310,948 1320,967 1330,977 1338,977 1346,968 1355,952 1367,930"/>
</g>
<rect class="ax" x="1502" y="993" width="398.7" height="358.5"/>
<g fill="#fff">
 <rect x="1620.6" y="989" width="6" height="8"/><rect x="1620.6" y="1347.5" width="6" height="8"/>
 <rect x="1776" y="989" width="6" height="8"/><rect x="1776" y="1347.5" width="6" height="8"/>
</g>
<path class="tk" d="M1615,1002L1621.5,984M1621,1002L1627.5,984M1615,1360.5L1621.5,1342.5M1621,1360.5L1627.5,1342.5
M1770.5,1002L1777,984M1776.5,1002L1783,984M1770.5,1360.5L1777,1342.5M1776.5,1360.5L1783,1342.5
M1502,1351.5v8M1586,1351.5v8M1657.7,1351.5v8M1745.6,1351.5v8M1814.5,1351.5v8M1900.7,1351.5v8
M1544,1351.5v5M1702,1351.5v5M1857.6,1351.5v5"/>
<g text-anchor="middle">
 <text x="1502" y="1388">1,400</text><text x="1589" y="1388">1,300</text><text x="1658" y="1388">1,200</text>
 <text x="1745.5" y="1388">1,100</text><text x="1814" y="1388">1,000</text><text x="1900.5" y="1388">900</text>
 <text x="1701" y="1431">Wavenumber (cm<tspan font-size="16" dy="-9">-1</tspan><tspan dy="9">)</tspan></text>
 <text transform="translate(1483,1172) rotate(-90)">Transmittance (a.u.)</text>
</g>
<line x1="1533" y1="1018" x2="1593" y2="1018" stroke="#1c3ea8" stroke-width="2.6"/>
<text x="1600" y="1027">PSP</text>
<line x1="1694" y1="1018" x2="1754" y2="1018" stroke="#a3142f" stroke-width="2.6"/>
<text x="1761" y="1027">PSP(PbI<tspan font-size="17" dy="6">2</tspan><tspan dy="-6">)</tspan></text>
<text x="1514" y="1154">u<tspan font-size="17" font-style="italic" dy="6">as</tspan><tspan dy="-6">(O=S=O)</tspan></text>
<text x="1643" y="1211">u<tspan font-size="17" font-style="italic" dy="6">s</tspan><tspan dy="-6">(O=S=O)</tspan></text>
<text x="1804" y="1145">u(S=O)</text>
</svg>
</body></html>
